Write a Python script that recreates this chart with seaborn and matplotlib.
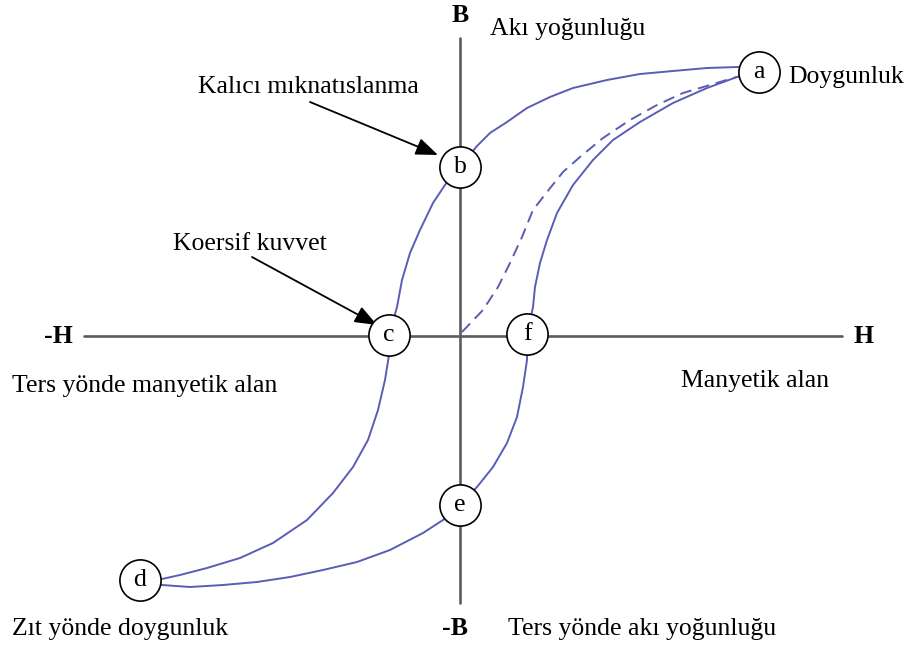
import numpy as np
import pandas as pd
import matplotlib
matplotlib.use('Agg')
import matplotlib.pyplot as plt
import seaborn as sns

# 히스테리시스 곡선 (H, B) - 원점 기준 값
upper_h = [299, 278, 247, 213, 180, 147, 113, 90, 67, 47, 30, 17, 0, -13, -27, -40, -50, -58, -63,
           -71, -71, -75, -82, -92, -107, -127, -153, -187, -220, -253, -280, -298, -318]
upper_b = [264, 269, 268, 265, 262, 256, 248, 239, 228, 214, 203, 190, 169, 154, 133, 106, 83, 56, 29,
           1, -19, -44, -74, -104, -131, -157, -184, -207, -222, -232, -239, -243, -245]

lower_h = [-318, -298, -270, -237, -203, -170, -137, -103, -70, -37, -17, 0, 17, 33, 47, 57, 63, 67,
           67, 73, 75, 80, 87, 97, 113, 133, 153, 180, 213, 247, 277, 299]
lower_b = [-248, -249, -251, -249, -246, -241, -234, -226, -214, -197, -184, -169, -151, -131, -107, -81, -51, -24,
           1, 29, 49, 73, 96, 123, 151, 176, 196, 214, 233, 248, 259, 264]

initial_h = [2, 23, 38, 50, 62, 73, 87, 103, 120, 143, 170, 197, 223, 250, 273, 285]
initial_b = [4, 26, 49, 73, 99, 126, 144, 164, 179, 198, 216, 231, 243, 251, 258, 261]

# 주요 점 (a~f)
point_labels = ['a', 'b', 'c', 'd', 'e', 'f']
point_h = [299, 0, -71, -320, 0, 67]
point_b = [264, 169, 1, -244, -169, 2]

LINE_COLOR = '#5a5db5'
AXIS_COLOR = '#5c5c5c'

sns.set_style('white')
plt.rcParams['font.family'] = ['Liberation Serif', 'DejaVu Serif']
plt.rcParams['text.color'] = 'black'

fig = plt.figure(figsize=(9.1, 6.5), dpi=100)
ax = fig.add_axes([0, 0, 1, 1])
ax.set_xlim(-460, 450)
ax.set_ylim(-314, 336)
ax.axis('off')

# 좌표축
ax.plot([-376, 382], [0, 0], color=AXIS_COLOR, lw=1.9, zorder=1)
ax.plot([0, 0], [-267, 298], color=AXIS_COLOR, lw=1.9, zorder=1)

# 곡선
sns.lineplot(x=upper_h, y=upper_b, sort=False, estimator=None, color=LINE_COLOR, lw=1.4, ax=ax, zorder=2)
sns.lineplot(x=lower_h, y=lower_b, sort=False, estimator=None, color=LINE_COLOR, lw=1.4, ax=ax, zorder=2)
sns.lineplot(x=initial_h, y=initial_b, sort=False, estimator=None, color=LINE_COLOR, lw=1.4,
             dashes=False, linestyle=(0, (6, 3.5)), ax=ax, zorder=2)

# 점 원
pts = pd.DataFrame({'H': point_h, 'B': point_b, 'label': point_labels})
sns.scatterplot(data=pts, x='H', y='B', s=880, color='white', edgecolor='black',
                linewidth=1.2, ax=ax, zorder=5, legend=False)
for _, row in pts.iterrows():
    ax.text(row['H'], row['B'], row['label'], ha='center', va='center', fontsize=18.5, zorder=6)

fs = 18.5
ax.text(0, 314, 'B', ha='center', va='baseline', fontsize=fs, fontweight='bold')
ax.text(-5, -299, '-B', ha='center', va='baseline', fontsize=fs, fontweight='bold')
ax.text(-387, -7, '-H', ha='right', va='baseline', fontsize=fs, fontweight='bold')
ax.text(403, -7, 'H', ha='center', va='baseline', fontsize=fs, fontweight='bold')

ax.text(30, 301, 'Akı yoğunluğu', ha='left', va='baseline', fontsize=fs)
ax.text(328, 253, 'Doygunluk', ha='left', va='baseline', fontsize=fs)
ax.text(-448, -56, 'Ters yönde manyetik alan', ha='left', va='baseline', fontsize=fs)
ax.text(221, -51, 'Manyetik alan', ha='left', va='baseline', fontsize=fs)
ax.text(48, -299, 'Ters yönde akı yoğunluğu', ha='left', va='baseline', fontsize=fs)
ax.text(-448, -299, 'Zıt yönde doygunluk', ha='left', va='baseline', fontsize=fs)

# 화살표 주석
arrow = dict(arrowstyle='-|>,head_length=0.9,head_width=0.35', color='black', lw=1.3,
             mutation_scale=15, shrinkA=0, shrinkB=0)
ax.text(-152, 243, 'Kalıcı mıknatıslanma', ha='center', va='baseline', fontsize=fs)
ax.annotate('', xy=(-22, 181), xytext=(-150, 234), arrowprops=arrow)
ax.text(-210, 86, 'Koersif kuvvet', ha='center', va='baseline', fontsize=fs)
ax.annotate('', xy=(-83, 11), xytext=(-208, 79), arrowprops=arrow)

fig.savefig('out.png', dpi=100)
